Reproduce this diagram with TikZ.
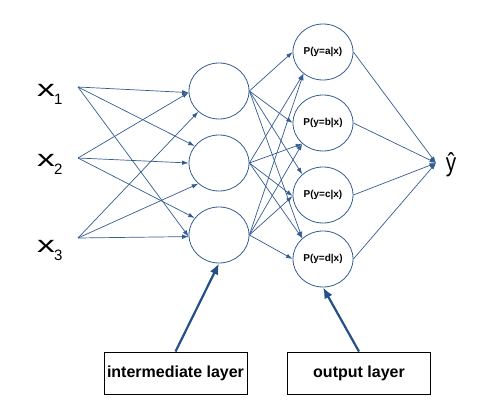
\documentclass[tikz,border=0pt]{standalone}
\usepackage{fontspec}
\setmainfont{Liberation Sans}
\usetikzlibrary{shapes.geometric,arrows.meta}
\definecolor{lc}{RGB}{52,92,145}
\definecolor{tc}{RGB}{38,78,135}
\begin{document}
\begin{tikzpicture}[x=1pt,y=-1pt,
  neuron/.style={ellipse,draw=lc,line width=0.8pt,minimum width=60pt,minimum height=56pt,inner sep=0pt,font=\fontsize{10}{11}\selectfont\bfseries},
  conn/.style={draw=lc,line width=0.7pt,-{Latex[length=6.5pt,width=4.5pt]}},
  bigarrow/.style={draw=tc,line width=2.2pt,-{Latex[length=11pt,width=9pt]}},
  lbox/.style={draw=black,line width=0.9pt,minimum width=143pt,minimum height=42pt,inner sep=0pt,font=\fontsize{16}{17}\selectfont\bfseries},
  xlab/.style={inner sep=0pt,anchor=base west}]
\useasboundingbox (0,0) rectangle (491,417);
\newcommand{\xsub}[1]{\scalebox{1.55}[1]{\fontsize{23}{23}\selectfont x}\kern-1pt\raisebox{-8pt}{\fontsize{15}{15}\selectfont #1}}
% inputs
\node[xlab] (x1) at (37,97) {\xsub{1}};
\node[xlab] (x2) at (37,167) {\xsub{2}};
\node[xlab] (x3) at (37,253) {\xsub{3}};
\coordinate (s1) at (78,87);
\coordinate (s2) at (78,158);
\coordinate (s3) at (78,238);
% hidden
\node[neuron] (h1) at (219,91) {};
\node[neuron] (h2) at (219,163) {};
\node[neuron] (h3) at (219,235) {};
% outputs
\node[neuron] (a) at (323,52) {P(y=a|x)};
\node[neuron] (b) at (323,123) {P(y=b|x)};
\node[neuron] (c) at (323,195) {P(y=c|x)};
\node[neuron] (d) at (323,259) {P(y=d|x)};
% y hat
\node[inner sep=0pt] (yh) at (451,165) {\scalebox{0.8}[1]{\fontsize{26}{26}\selectfont ŷ}};
\coordinate (yt) at (436,163);
% input -> hidden
\draw[conn] (s1) -- (h1.183);
\draw[conn] (s1) -- (h2.145);
\draw[conn] (s1) -- (h3.183);
\draw[conn] (s2) -- (h1.183);
\draw[conn] (s2) -- (h2.180);
\draw[conn] (s2) -- (h3.145);
\draw[conn] (s3) -- (h1.225);
\draw[conn] (s3) -- (h2.225);
\draw[conn] (s3) -- (h3.183);
% hidden -> output
\draw[conn] (h1.east) -- (a.west);
\draw[conn] (h1.east) -- (b.west);
\draw[conn] (h1.east) -- (c.135);
\draw[conn] (h1.east) -- (d.135);
\draw[conn] (h2.east) -- (a.228);
\draw[conn] (h2.east) -- (b.225);
\draw[conn] (h2.east) -- (c.182);
\draw[conn] (h2.east) -- (d.135);
\draw[conn] (h3.east) -- (a.228);
\draw[conn] (h3.east) -- (b.225);
\draw[conn] (h3.east) -- (c.182);
\draw[conn] (h3.east) -- (d.180);
% output -> y hat
\draw[conn] (a.east) -- (yt);
\draw[conn] (b.east) -- (yt);
\draw[conn] (c.east) -- (yt);
\draw[conn] (d.east) -- (yt);
% label boxes
\node[lbox] (ib) at (175.5,373) {intermediate layer};
\node[lbox] (ob) at (359,373) {output layer};
\draw[bigarrow] (ib.north) -- (h3.south);
\draw[bigarrow] (ob.north) -- (d.south);
\end{tikzpicture}
\end{document}
